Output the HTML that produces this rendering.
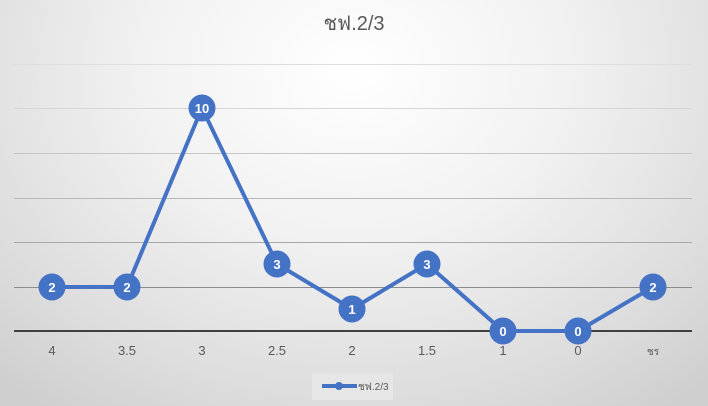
<!DOCTYPE html><html><head><style>html,body{margin:0;padding:0}body{width:708px;height:406px;overflow:hidden;background:radial-gradient(ellipse 520px 420px at 354px 70px,#ffffff 0%,#f2f2f2 40%,#dcdcdc 80%,#cfcfcf 100%)}</style></head><body>
<svg width="708" height="406" xmlns="http://www.w3.org/2000/svg" style="position:absolute;left:0;top:0;font-family:'Liberation Sans','Noto Sans CJK SC',sans-serif">
<text x="354" y="30" text-anchor="middle" font-size="20" fill="#595959">ชฟ.2/3</text>
<g stroke-width="1">
<line x1="14" x2="692" y1="64.5" y2="64.5" stroke="#dedede"/>
<line x1="14" x2="692" y1="108.5" y2="108.5" stroke="#d6d6d6"/>
<line x1="14" x2="692" y1="153.5" y2="153.5" stroke="#c6c6c6"/>
<line x1="14" x2="692" y1="198.5" y2="198.5" stroke="#b8b8b8"/>
<line x1="14" x2="692" y1="242.5" y2="242.5" stroke="#a8a8a8"/>
<line x1="14" x2="692" y1="287.5" y2="287.5" stroke="#8c8c8c"/>
</g>
<line x1="14" x2="692" y1="331" y2="331" stroke="#404040" stroke-width="2"/>
<polyline fill="none" stroke="#4472c4" stroke-width="4" stroke-linejoin="round" points="52,287 127,287 202,108 277,264 352,309 427,264 503,331 578,331 653,287"/>
<g fill="#4472c4" stroke="#4472c4">
<circle cx="52" cy="287" r="13"/><circle cx="127" cy="287" r="13"/><circle cx="202" cy="108" r="13"/><circle cx="277" cy="264" r="13"/><circle cx="352" cy="309" r="13"/><circle cx="427" cy="264" r="13"/><circle cx="503" cy="331" r="13"/><circle cx="578" cy="331" r="13"/><circle cx="653" cy="287" r="13"/>
</g>
<g fill="#fff" font-size="13" font-weight="bold" text-anchor="middle">
<text x="52" y="292">2</text><text x="127" y="292">2</text><text x="202" y="113">10</text><text x="277" y="269">3</text><text x="352" y="314">1</text><text x="427" y="269">3</text><text x="503" y="336">0</text><text x="578" y="336">0</text><text x="653" y="292">2</text>
</g>
<g fill="#595959" font-size="13" text-anchor="middle">
<text x="52" y="355">4</text><text x="127" y="355">3.5</text><text x="202" y="355">3</text><text x="277" y="355">2.5</text><text x="352" y="355">2</text><text x="427" y="355">1.5</text><text x="503" y="355">1</text><text x="578" y="355">0</text><text x="653" y="355" font-size="10">ชร</text>
</g>
<rect x="312" y="373" width="81" height="27" fill="#e6e6e6"/>
<line x1="322" x2="357" y1="386" y2="386" stroke="#4472c4" stroke-width="4"/>
<circle cx="339" cy="386" r="4" fill="#4472c4"/>
<text x="358" y="390" font-size="10" fill="#595959">ชฟ.2/3</text>
</svg>
</body></html>
